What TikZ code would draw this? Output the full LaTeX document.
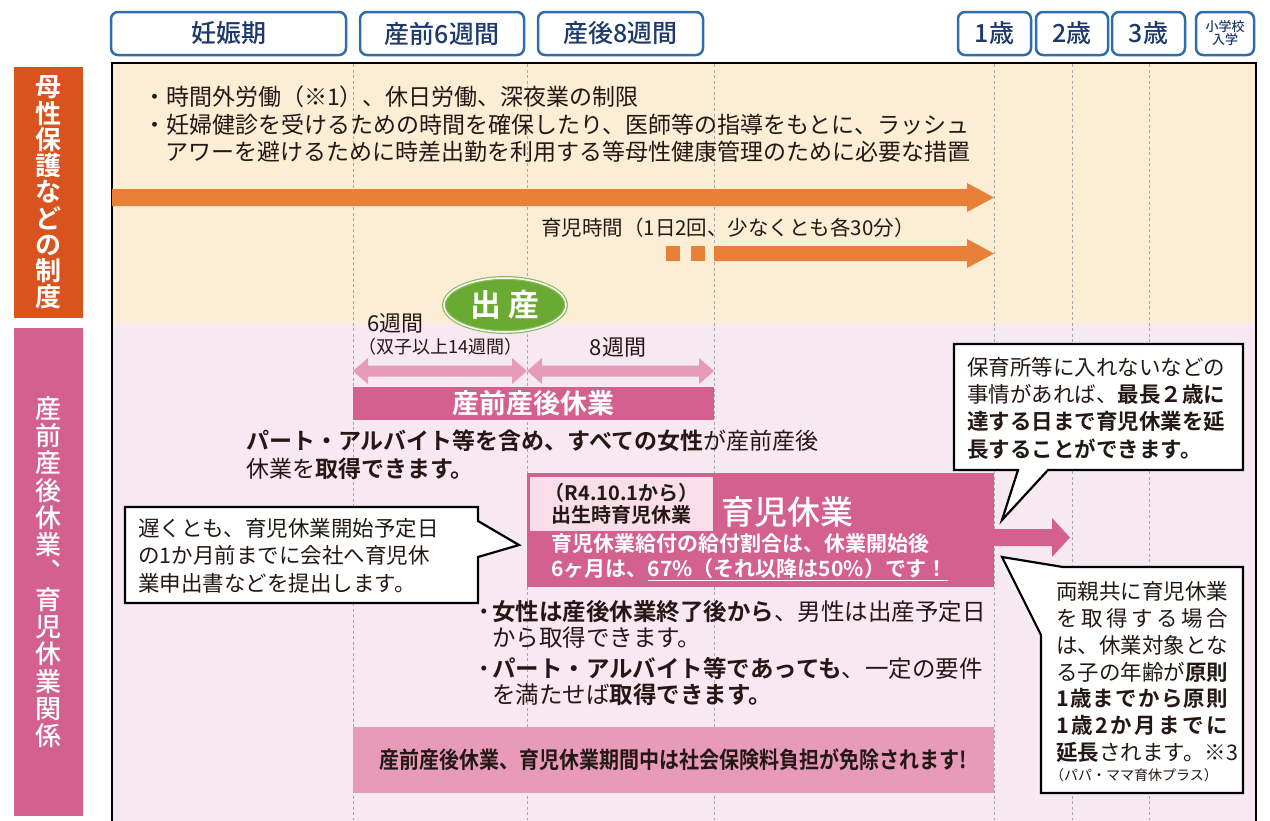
\documentclass[tikz,border=0pt]{standalone}
\usepackage{fontspec}
\usepackage{graphicx}
\setmainfont{Noto Sans CJK JP}[BoldFont={Noto Sans CJK JP Bold}]
\newfontfamily\jpmed{Noto Sans CJK JP Medium}
\usetikzlibrary{shapes.geometric}
\definecolor{hblue}{HTML}{2F6DA8}
\definecolor{htext}{HTML}{1C3A6B}
\definecolor{orgL}{HTML}{D9531E}
\definecolor{orgA}{HTML}{E8803A}
\definecolor{beige}{HTML}{FCEDD5}
\definecolor{pinkbg}{HTML}{F7E9F1}
\definecolor{pinkD}{HTML}{D4608F}
\definecolor{pinkL}{HTML}{E89BB9}
\definecolor{pinkI}{HTML}{F9DEE9}
\definecolor{grn}{HTML}{6AAA33}
\definecolor{tcol}{HTML}{231815}
\definecolor{dgray}{HTML}{A8A8A8}
\newcommand\jsz[2]{\fontsize{#1}{#2}\selectfont}
\newcommand\bul{\makebox[16pt]{・}}
\newcommand\spr[1]{\makebox[172pt][s]{#1}}
\tikzset{
  txt/.style={anchor=west, inner sep=0pt, text=tcol, font=\jsz{23}{27}},
  hdr/.style={draw=hblue, line width=2.5pt, rounded corners=7pt, fill=white, text=htext, inner sep=0pt, minimum height=43pt, font=\jpmed\jsz{25}{25}},
  lbl/.style={inner sep=0pt, text=white, align=center, minimum width=69pt},
  dl/.style={dgray, line width=0.8pt, dash pattern=on 3pt off 2.5pt},
  callout/.style={draw=black, line width=2.2pt, fill=white, line join=miter},
  bar/.style={inner sep=0pt}
}
\begin{document}
\begin{tikzpicture}[x=1pt,y=-1pt]
\useasboundingbox (0,0) rectangle (1270,820);
\fill[white] (0,0) rectangle (1270,820);

% backgrounds
\fill[beige] (112,63) rectangle (1256,323);
\fill[pinkbg] (112,323) rectangle (1256,835);
\foreach \xx in {353,527,714,994,1072,1149} \draw[dl] (\xx,64) -- (\xx,820);
\draw[black, line width=2pt] (112,63) rectangle (1256,835);

% headers
\node[hdr, minimum width=235pt] (hA) at (228.5,33.5) {妊娠期};
\node[hdr, minimum width=164pt] (hB) at (442,33.5) {産前6週間};
\node[hdr, minimum width=165pt] (hC) at (620.5,33.5) {産後8週間};
\node[hdr, minimum width=73pt] (hD) at (994.5,33.5) {1歳};
\node[hdr, minimum width=72pt] (hE) at (1072,33.5) {2歳};
\node[hdr, minimum width=73pt] (hF) at (1148.5,33.5) {3歳};
\node[hdr, minimum width=58pt, align=center, font=\jpmed\jsz{13}{13}] (hG) at (1225,33.5) {小学校\\入学};

% left labels
\node[lbl, fill=orgL, minimum height=251pt, font=\bfseries\jsz{26}{26.25}] (L1) at (48.5,192.5) {母\\性\\保\\護\\な\\ど\\の\\制\\度};
\node[lbl, fill=pinkD, minimum height=488pt, font=\jpmed\jsz{26}{27.3}] (L2) at (48.5,572) {産\\前\\産\\後\\休\\業\\︑\\育\\児\\休\\業\\関\\係};

% upper section texts
\node[txt] (m1) at (143,97) {・時間外労働（※1）、休日労働、深夜業の制限};
\node[txt] (m2) at (143,125) {・妊婦健診を受けるための時間を確保したり、医師等の指導をもとに、ラッシュ};
\node[txt] (m3) at (165,152) {アワーを避けるために時差出勤を利用する等母性健康管理のために必要な措置};

% orange arrows
\fill[orgA] (112,189) -- (967,189) -- (967,183) -- (994,197.5) -- (967,212) -- (967,206) -- (112,206) -- cycle;
\node[txt, font=\jsz{20.5}{24}] (ikt) at (541,228) {育児時間（1日2回、少なくとも各30分）};
\fill[orgA] (666,246) rectangle (680,261);
\fill[orgA] (691,246) rectangle (705,261);
\fill[orgA] (714,246) -- (967,246) -- (967,239) -- (994,253.5) -- (967,268) -- (967,261) -- (714,261) -- cycle;

% birth
\node[ellipse, fill=grn, draw=grn!80!white, double=white, double distance=1.5pt, line width=1.2pt, minimum width=122pt, minimum height=54pt, inner sep=0pt, text=white, font=\bfseries\jsz{31}{31}] (birth) at (505,305) {出\hspace{7pt}産};

\node[txt, font=\jsz{22}{24}] (w6) at (367,323) {6週間};
\node[txt, font=\jsz{18}{22}] (w6b) at (358,347) {（双子以上14週間）};
\node[inner sep=0pt, text=tcol, font=\jsz{22}{24}] (w8) at (618,347) {8週間};

% double arrows
\fill[pinkL] (353,371) -- (368,358) -- (368,365.5) -- (512,365.5) -- (512,358) -- (527,371) -- (512,384) -- (512,376.5) -- (368,376.5) -- (368,384) -- cycle;
\fill[pinkL] (527,371) -- (542,358) -- (542,365.5) -- (699,365.5) -- (699,358) -- (714,371) -- (699,384) -- (699,376.5) -- (542,376.5) -- (542,384) -- cycle;

\node[bar, fill=pinkD, minimum width=361pt, minimum height=33pt, text=white, font=\bfseries\jsz{27}{27}] (sanzen) at (533.5,403.5) {産前産後休業};

\node[txt] (p1) at (246,441) {\textbf{パート・アルバイト等を含め、すべての女性}が産前産後};
\node[txt] (p2) at (246,469) {休業を\textbf{取得できます。}};

% ikuji box
\node[bar, fill=pinkD, minimum width=467pt, minimum height=114pt] (ikuji) at (760.5,530) {};
\node[bar, fill=pinkI, minimum width=183pt, minimum height=54pt, align=center, font=\bfseries\jsz{20}{22.5}, text=tcol] (shus) at (621.5,504) {（R4.10.1から）\\出生時育児休業};
\node[txt, text=white, font=\jpmed\jsz{33}{33}] (ikt2) at (721,512) {育児休業};
\node[txt, text=white, font=\bfseries\jsz{21}{25}] (g1) at (551,544) {育児休業給付の給付割合は、休業開始後};
\node[txt, text=white, font=\bfseries\jsz{21}{25}] (g2a) at (551,569) {6ヶ月は、};
\node[txt, text=white, font=\bfseries\jsz{21}{25}] (g2b) at (g2a.east) {67\%（それ以降は50\%）です！};
\draw[white, line width=1.3pt] ([yshift=-1.5pt]g2b.south west) -- ([yshift=-1.5pt]g2b.south east);
\fill[pinkD] (994,529) -- (1052,529) -- (1052,518) -- (1070,537.5) -- (1052,557) -- (1052,546) -- (994,546) -- cycle;

% left callout
\draw[callout] (125,507) -- (478,507) -- (478,521) -- (519,545) -- (478,557) -- (478,603) -- (125,603) -- cycle;
\node[txt, font=\jsz{21.5}{27.5}, align=left] (lc) at (138,555.5) {遅くとも、育児休業開始予定日\\の1か月前までに会社へ育児休\\業申出書などを提出します。};

% bullets
\node[txt, font=\jsz{23.5}{27}] (b1) at (476,612) {\bul\textbf{女性は産後休業終了後から}、男性は出産予定日};
\node[txt, font=\jsz{23.5}{27}] (b2) at (492,638) {から取得できます。};
\node[txt, font=\jsz{23.5}{27}] (b3) at (476,668) {\bul\textbf{パート・アルバイト等であっても}、一定の要件};
\node[txt, font=\jsz{23.5}{27}] (b4) at (492,695) {を満たせば\textbf{取得できます。}};

% bottom bar
\node[bar, fill=pinkL, minimum width=641pt, minimum height=66pt, font=\bfseries\jsz{23}{23}, text=tcol] (shaho) at (673.5,760) {\scalebox{0.87}[1]{産前産後休業、育児休業期間中は社会保険料負担が免除されます!}};

% right callouts
\draw[callout] (954,344) -- (1243,344) -- (1243,470) -- (1048,470) -- (1002,520) -- (1018,470) -- (954,470) -- cycle;
\node[txt, font=\jsz{21.5}{27.3}, align=left] (rc1) at (967,408) {保育所等に入れないなどの\\事情があれば、\textbf{最長２歳に}\\\textbf{達する日まで育児休業を延}\\\textbf{長することができます。}};

\draw[callout] (1063,567) -- (1243,567) -- (1243,793) -- (1041,793) -- (1041,635) -- (1002,557) -- cycle;
\node[txt, font=\jsz{21.5}{26.7}, align=left] (rc2) at (1056,672) {\spr{両親共に育児休業}\\\spr{を\hfill 取\hfill 得\hfill す\hfill る\hfill 場\hfill 合}\\\spr{は、休業対象とな}\\\spr{る子の年齢が\textbf{原則}}\\\spr{\textbf{1\hfill 歳\hfill ま\hfill で\hfill か\hfill ら\hfill 原\hfill 則}}\\\spr{\textbf{1\hfill 歳\hfill 2\hfill か\hfill 月\hfill ま\hfill で\hfill に}}\\\textbf{延長}されます。※3};
\node[txt, font=\jsz{14}{16}] (rc2s) at (1050,775) {（パパ・ママ育休プラス）};
\end{tikzpicture}
\end{document}
